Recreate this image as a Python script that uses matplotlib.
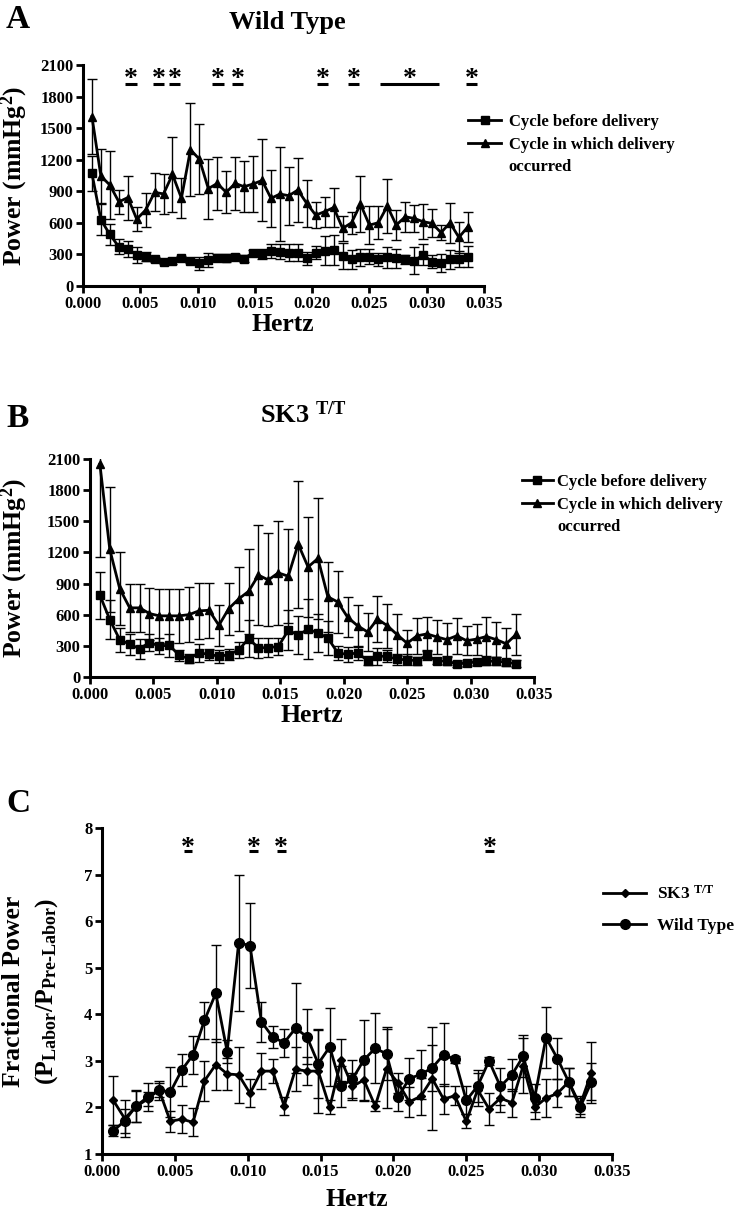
import numpy as np
import matplotlib.pyplot as plt
from matplotlib.lines import Line2D

plt.rcParams['font.family'] = ['Liberation Serif', 'DejaVu Serif']
plt.rcParams['font.weight'] = 'bold'
plt.rcParams['mathtext.fontset'] = 'custom'
plt.rcParams['mathtext.rm'] = 'Liberation Serif:bold'
plt.rcParams['mathtext.bf'] = 'Liberation Serif:bold'
plt.rcParams['mathtext.it'] = 'Liberation Serif:bold'
plt.rcParams['mathtext.default'] = 'bf'

# frequency bins (Hz)
hz = [0.00078, 0.00156, 0.00234, 0.00313, 0.00391, 0.00469, 0.00547, 0.00625,
      0.00703, 0.00781, 0.00859, 0.00938, 0.01016, 0.01094, 0.01172, 0.01250,
      0.01328, 0.01406, 0.01484, 0.01563, 0.01641, 0.01719, 0.01797, 0.01875,
      0.01953, 0.02031, 0.02109, 0.02188, 0.02266, 0.02344, 0.02422, 0.02500,
      0.02578, 0.02656, 0.02734, 0.02813, 0.02891, 0.02969, 0.03047, 0.03125,
      0.03203, 0.03281, 0.03359]

# panel A - wild type power (mmHg^2)
wt_before = [1070, 630, 490, 372, 352, 295, 280, 255, 230, 240, 265, 240, 216,
             245, 268, 265, 273, 261, 315, 304, 333, 326, 317, 317, 263, 317,
             336, 342, 285, 253, 272, 279, 253, 272, 263, 253, 241, 295, 231,
             215, 253, 253, 279]
wt_before_err = [170, 150, 100, 70, 75, 75, 40, 25, 25, 30, 20, 20, 60, 65, 35,
                 40, 30, 35, 30, 50, 70, 70, 80, 80, 60, 60, 140, 140, 120, 90,
                 80, 70, 60, 100, 90, 40, 125, 100, 60, 85, 90, 75, 100]
wt_deliv = [1610, 1045, 960, 800, 840, 635, 722, 890, 875, 1060, 835, 1295, 1205,
            925, 975, 890, 975, 944, 969, 1003, 833, 874, 858, 912, 785, 674,
            706, 746, 547, 601, 778, 579, 601, 759, 579, 658, 642, 611, 595, 507,
            601, 462, 563]
wt_deliv_err = [360, 260, 320, 115, 210, 115, 160, 180, 190, 360, 190, 440, 335,
                285, 255, 200, 255, 240, 270, 390, 270, 450, 276, 300, 222, 127,
                143, 182, 118, 105, 267, 181, 159, 255, 143, 143, 127, 168, 133,
                72, 191, 149, 143]

# panel B - SK3 T/T power (mmHg^2)
sk_before = [788, 553, 360, 315, 273, 331, 299, 306, 209, 177, 232, 219, 199,
             215, 260, 370, 280, 284, 293, 450, 405, 460, 425, 375, 233, 217,
             233, 158, 200, 200, 170, 167, 156, 209, 156, 153, 125, 135, 145,
             150, 155, 140, 130]
sk_before_err = [225, 187, 116, 100, 97, 80, 80, 110, 55, 45, 90, 55, 60, 50, 80,
                 177, 100, 90, 85, 193, 180, 290, 180, 160, 70, 70, 70, 40, 80,
                 60, 50, 50, 40, 50, 30, 40, 25, 30, 30, 35, 35, 30, 30]
sk_deliv = [2050, 1229, 852, 666, 666, 611, 589, 589, 589, 601, 637, 643, 498,
            659, 752, 825, 981, 935, 1003, 971, 1280, 1060, 1142, 772, 723, 575,
            494, 434, 558, 494, 407, 325, 397, 415, 386, 360, 397, 350, 365, 390,
            360, 320, 410]
sk_deliv_err = [890, 604, 348, 234, 234, 251, 257, 257, 263, 267, 270, 264, 200,
                251, 305, 410, 482, 448, 502, 450, 611, 484, 579, 338, 297, 191,
                204, 184, 224, 214, 198, 125, 176, 164, 167, 161, 173, 139, 150,
                190, 170, 150, 200]

# panel C - fractional power
frac_sk = [2.15, 1.76, 2.02, 2.18, 2.38, 1.70, 1.75, 1.68, 2.57, 2.92, 2.72, 2.70,
           2.30, 2.78, 2.78, 2.03, 2.82, 2.78, 2.78, 2.00, 3.02, 2.45, 2.59, 2.03,
           2.83, 2.53, 2.12, 2.24, 2.62, 2.18, 2.25, 1.70, 2.38, 1.97, 2.20, 2.10,
           2.90, 2.00, 2.20, 2.30, 2.55, 2.05, 2.75]
frac_sk_err = [0.53, 0.40, 0.33, 0.15, 0.15, 0.22, 0.30, 0.30, 0.43, 0.55, 0.35,
               0.60, 0.30, 0.38, 0.25, 0.20, 0.47, 0.30, 0.90, 0.15, 0.45, 0.30,
               0.45, 0.10, 0.85, 0.22, 0.32, 0.40, 1.10, 0.32, 0.20, 0.15, 0.35,
               0.35, 0.30, 0.30, 0.60, 0.25, 0.40, 0.30, 0.30, 0.20, 0.65]
frac_wt = [1.50, 1.71, 2.03, 2.22, 2.37, 2.33, 2.80, 3.13, 3.87, 4.45, 3.20, 5.54,
           5.47, 3.84, 3.51, 3.39, 3.70, 3.52, 2.94, 3.30, 2.45, 2.61, 3.02, 3.27,
           3.15, 2.22, 2.62, 2.71, 2.85, 3.13, 3.03, 2.15, 2.46, 3.00, 2.45, 2.70,
           3.10, 2.20, 3.50, 3.05, 2.55, 2.00, 2.55]
frac_wt_err = [0.12, 0.25, 0.35, 0.30, 0.20, 0.53, 0.35, 0.41, 0.40, 1.04, 0.25,
               1.46, 0.91, 0.43, 0.23, 0.30, 0.97, 0.59, 0.73, 0.83, 0.45, 0.40,
               0.86, 0.75, 0.57, 0.30, 0.45, 0.52, 0.50, 0.68, 0.08, 0.30, 0.35,
               0.08, 0.40, 0.35, 0.45, 0.30, 0.65, 0.45, 0.30, 0.20, 0.40]

# significance marks: star position and bar extent (Hz)
stars_a = [0.0042, 0.0066, 0.0080, 0.0118, 0.0135, 0.0209, 0.0236, 0.0285, 0.0339]
bars_a = [(0.0037, 0.0047), (0.0061, 0.0071), (0.0075, 0.0085), (0.0113, 0.0123),
          (0.0130, 0.0140), (0.0204, 0.0214), (0.0231, 0.0241), (0.0259, 0.0311),
          (0.0334, 0.0344)]
stars_c = [0.0059, 0.0104, 0.0123, 0.0266]
bars_c = [(0.0056, 0.0062), (0.0101, 0.0107), (0.0120, 0.0126), (0.0263, 0.0269)]

xticks = [0.000, 0.005, 0.010, 0.015, 0.020, 0.025, 0.030, 0.035]
power_ticks = [0, 300, 600, 900, 1200, 1500, 1800, 2100]
frac_ticks = [1, 2, 3, 4, 5, 6, 7, 8]

W, H = 738, 1210
fig = plt.figure(figsize=(W / 100, H / 100), dpi=100)


def box(l, t, r, b):
    return [l / W, 1 - b / H, (r - l) / W, (b - t) / H]


def fx(x):
    return x / W


def fy(y):
    return 1 - y / H


def style(ax, yticks):
    for s in ['top', 'right']:
        ax.spines[s].set_visible(False)
    for s in ['left', 'bottom']:
        ax.spines[s].set_linewidth(2.2)
    ax.set_xlim(0, 0.035)
    ax.set_xticks(xticks)
    ax.set_xticklabels(['%.3f' % t for t in xticks])
    ax.set_ylim(yticks[0], yticks[-1])
    ax.set_yticks(yticks)
    ax.tick_params(direction='out', length=5, width=2, labelsize=12, pad=2)
    for lab in ax.get_xticklabels() + ax.get_yticklabels():
        lab.set_fontweight('bold')


def power_legend(ax, x, top, hl, pad):
    # third row is the wrapped word of the second label, with an empty handle
    hs = [Line2D([], [], color='k', lw=2, marker='s', ms=6),
          Line2D([], [], color='k', lw=2, marker='^', ms=6),
          Line2D([], [], color='none')]
    ax.legend(hs, ['Cycle before delivery', 'Cycle in which delivery', 'occurred'],
              loc='upper left', bbox_to_anchor=(fx(x), fy(top)),
              bbox_transform=fig.transFigure, frameon=False, fontsize=12,
              borderpad=0, borderaxespad=0, handlelength=hl,
              handletextpad=pad, labelspacing=0.4)


eb = dict(color='k', lw=2.0, capsize=3.3, elinewidth=1.0, capthick=1.0)

# ---- A
axA = fig.add_axes(box(83, 65, 484, 286))
axA.errorbar(hz, wt_deliv, yerr=wt_deliv_err, marker='^', ms=6, **eb)
axA.errorbar(hz, wt_before, yerr=wt_before_err, marker='s', ms=6, **eb)
style(axA, power_ticks)
for sx, (b0, b1) in zip(stars_a, bars_a):
    axA.text(sx, 1900, '*', ha='center', va='baseline', fontsize=20, fontweight='bold')
    axA.plot([b0, b1], [1920, 1920], color='k', lw=2.2, solid_capstyle='butt', clip_on=False)
power_legend(axA, 468, 114, 2.0, 0.45)

fig.text(fx(6), fy(28), 'A', fontsize=24, fontweight='bold', va='baseline')
fig.text(fx(287), fy(23), 'Wild Type', fontsize=19, fontweight='bold', ha='center', va='center')
fig.text(fx(14), fy(176), 'Power (mmHg$^2$)', fontsize=18.5, fontweight='bold',
         rotation=90, ha='center', va='center')
fig.text(fx(283), fy(331), 'Hertz', fontsize=18.5, fontweight='bold', ha='center', va='baseline')

# ---- B
axB = fig.add_axes(box(90, 459, 534, 677))
axB.errorbar(hz, sk_deliv, yerr=sk_deliv_err, marker='^', ms=6, **eb)
axB.errorbar(hz, sk_before, yerr=sk_before_err, marker='s', ms=6, **eb)
style(axB, power_ticks)
power_legend(axB, 522, 474, 1.85, 0.25)

fig.text(fx(6), fy(427), 'B', fontsize=24, fontweight='bold', va='baseline')
fig.text(fx(303), fy(415), 'SK3 $^{T/T}$', fontsize=19, fontweight='bold', ha='center', va='center')
fig.text(fx(14), fy(568), 'Power (mmHg$^2$)', fontsize=18.5, fontweight='bold',
         rotation=90, ha='center', va='center')
fig.text(fx(312), fy(722), 'Hertz', fontsize=18.5, fontweight='bold', ha='center', va='baseline')

# ---- C
axC = fig.add_axes(box(102, 828, 612, 1154))
axC.errorbar(hz, frac_sk, yerr=frac_sk_err, marker='D', ms=4.5, **eb)
axC.errorbar(hz, frac_wt, yerr=frac_wt_err, marker='o', ms=7, **eb)
style(axC, frac_ticks)
for sx, (b0, b1) in zip(stars_c, bars_c):
    axC.text(sx, 7.43, '*', ha='center', va='baseline', fontsize=20, fontweight='bold')
    axC.plot([b0, b1], [7.50, 7.50], color='k', lw=2.2, solid_capstyle='butt', clip_on=False)
axC.legend([Line2D([], [], color='k', lw=2, marker='D', ms=4.5),
            Line2D([], [], color='k', lw=2, marker='o', ms=7)],
           ['SK3 $^{T/T}$', 'Wild Type'],
           loc='upper left', bbox_to_anchor=(fx(603), fy(885)),
           bbox_transform=fig.transFigure, frameon=False, fontsize=12.5,
           borderpad=0, borderaxespad=0, handlelength=2.5,
           handletextpad=0.6, labelspacing=0.85)

fig.text(fx(6), fy(812), 'C', fontsize=24, fontweight='bold', va='baseline')
fig.text(fx(14), fy(991), 'Fractional Power', fontsize=18.5, fontweight='bold',
         rotation=90, ha='center', va='center')
fig.text(fx(47), fy(991), '(P$_{Labor}$/P$_{Pre\u2010Labor}$)', fontsize=18.5, fontweight='bold',
         rotation=90, ha='center', va='center')
fig.text(fx(357), fy(1206), 'Hertz', fontsize=18.5, fontweight='bold', ha='center', va='baseline')

fig.savefig('out.png', dpi=100)
